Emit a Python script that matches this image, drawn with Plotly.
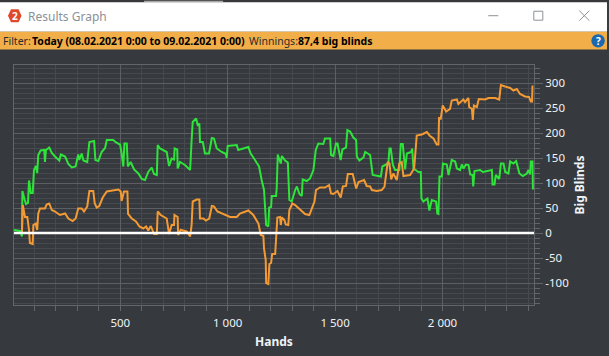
import plotly.graph_objects as go

green_hands = [5,33,42,44,55,61,70,75,83,92,98,107,113,118,129,146,149,154,169,181,196,216,223,243,258,274,292,304,309,320,328,346,356,378,384,398,413,429,437,467,480,499,506,514,519,530,535,548,564,584,600,615,630,646,657,670,674,685,716,727,739,750,753,765,767,778,801,825,832,837,853,860,868,871,884,894,913,926,936,949,972,992,995,1000,1042,1049,1096,1107,1127,1146,1158,1169,1179,1189,1193,1202,1205,1225,1228,1233,1247,1252,1267,1280,1287,1298,1314,1322,1334,1345,1349,1368,1383,1399,1410,1422,1445,1453,1477,1481,1492,1504,1511,1520,1526,1534,1551,1557,1570,1585,1598,1601,1613,1632,1640,1663,1675,1713,1720,1733,1748,1753,1759,1769,1779,1799,1806,1815,1826,1834,1854,1859,1865,1888,1899,1902,1911,1930,1939,1950,1970,1976,1981,1986,1997,2002,2020,2028,2043,2059,2067,2082,2090,2098,2109,2121,2129,2140,2143,2149,2175,2188,2230,2233,2242,2248,2264,2272,2284,2292,2307,2315,2330,2343,2358,2374,2393,2400,2408,2411,2419,2421]
green_bb = [6,4,-7,84,66,58,60,105,80,80,126,134,120,156,165,166,142,166,171,160,153,145,157,153,138,131,133,157,146,159,145,142,182,184,146,144,162,170,186,186,181,177,159,133,179,179,133,142,127,119,108,106,122,131,118,116,176,169,162,134,149,147,169,167,129,142,136,126,186,222,229,216,219,182,182,159,159,190,189,169,162,158,150,174,176,166,172,159,146,133,106,86,16,13,51,52,74,74,89,157,139,154,145,141,66,63,86,93,78,74,107,104,109,126,166,179,178,189,189,156,154,179,179,156,146,167,171,206,203,191,186,153,145,151,162,156,116,113,133,136,139,169,169,136,126,126,178,178,127,159,162,169,129,122,122,69,63,69,45,66,63,39,38,113,113,139,137,116,146,143,129,126,137,129,137,136,117,116,93,124,126,122,126,97,97,116,108,139,139,122,119,143,139,144,119,114,119,126,117,143,143,87]

orange_hands = [42,46,56,67,75,79,92,95,106,113,118,126,149,157,169,181,196,219,243,258,278,292,304,320,331,346,356,374,381,390,402,418,437,467,491,502,506,517,533,536,553,573,589,607,620,630,642,657,670,674,688,716,727,739,750,752,767,769,781,809,825,832,837,856,868,871,887,898,914,926,936,952,980,1011,1042,1057,1096,1119,1143,1154,1166,1169,1177,1179,1189,1194,1202,1207,1221,1225,1231,1244,1247,1252,1264,1270,1282,1287,1301,1314,1337,1360,1380,1391,1404,1411,1430,1453,1472,1481,1492,1511,1526,1536,1551,1559,1582,1598,1609,1635,1647,1663,1671,1694,1717,1730,1736,1745,1753,1761,1771,1787,1799,1810,1818,1849,1868,1876,1880,1904,1927,1942,1958,1973,1981,1984,1992,2001,2017,2035,2043,2067,2074,2097,2105,2121,2124,2137,2141,2146,2160,2169,2198,2214,2245,2264,2272,2292,2315,2330,2346,2361,2384,2403,2411,2417,2419]
orange_bb = [0,56,32,32,6,-20,-22,16,19,6,39,49,49,57,59,46,43,36,39,29,24,29,49,49,43,53,84,84,59,51,54,71,83,86,87,83,64,83,83,38,29,23,13,9,13,5,14,-2,-2,43,36,29,-2,16,16,36,32,-4,6,3,-7,16,63,67,67,29,29,25,29,54,53,43,38,32,32,39,45,36,19,-4,-6,-31,-54,-100,-102,-62,-60,-42,-42,-7,31,32,16,31,26,17,16,46,59,56,46,38,36,49,63,86,91,91,96,79,78,84,71,93,94,118,118,89,102,106,94,93,86,84,86,93,116,142,139,107,119,106,139,142,114,116,129,166,195,197,202,194,189,177,177,230,229,255,243,248,265,267,258,267,262,270,252,248,226,255,252,268,267,270,270,267,296,293,290,285,288,278,273,272,263,263,295]

x_ticks = [500, 1000, 1500, 2000]
x_labels = ["500", "1 000", "1 500", "2 000"]
y_ticks = [-100, -50, 0, 50, 100, 150, 200, 250, 300]
y_labels = ["-100", "-50", "0", "50", "100", "150", "200", "250", "300"]

W, H = 609, 356
L, R, T, B = 14, 533.7, 64.5, 305.5
BG = "#36393d"
FONT = "Noto Sans"

def px(x):
    return (x - L) / (R - L)

def py(y):
    return 1 - (y - T) / (B - T)

def rect(x0, y0, x1, y1, color):
    return dict(type="rect", xref="paper", yref="paper", x0=px(x0), x1=px(x1), y0=py(y0), y1=py(y1),
                fillcolor=color, line_width=0, layer="below")

def seg(x0, y0, x1, y1, color="#8d9094", width=1):
    return dict(type="line", xref="paper", yref="paper", x0=px(x0), x1=px(x1), y0=py(y0), y1=py(y1),
                line=dict(color=color, width=width), layer="above")

def label(x, y, text, size=11, color="#000000", bold=False, anchor="left", angle=0):
    t = f"<b>{text}</b>" if bold else text
    return dict(xref="paper", yref="paper", x=px(x), y=py(y), text=t, showarrow=False,
                xanchor=anchor, yanchor="middle", textangle=angle,
                font=dict(family=FONT, size=size, color=color))

fig = go.Figure()
fig.add_trace(go.Scatter(x=green_hands, y=green_bb, mode="lines",
                         line=dict(color="#2ee33a", width=2), showlegend=False))
fig.add_trace(go.Scatter(x=orange_hands, y=orange_bb, mode="lines",
                         line=dict(color="#f39a34", width=2), showlegend=False))

hexagon = "M {} {} L {} {} L {} {} L {} {} L {} {} L {} {} Z".format(
    px(11), py(8.5), px(18.5), py(8.5), px(21.5), py(15), px(18.5), py(21.5), px(11), py(21.5), px(8), py(15))

shapes = [
    rect(0, 0, W, 1.5, "#3a3a3a"),
    rect(144, 0, 223, 1.5, "#a8a8a8"),
    rect(0, 1.5, 606.7, 31, "#ffffff"),
    rect(606.7, 1.5, W, 31, "#3a3d40"),
    rect(0, 31, 606.7, 49, "#f2ae48"),
    rect(606.7, 31, W, 49, "#3a3d40"),
    dict(type="path", xref="paper", yref="paper", path=hexagon, fillcolor="#e0482a", line_width=0, layer="above"),
    seg(488, 15, 498, 15),
    dict(type="rect", xref="paper", yref="paper", x0=px(533.5), x1=px(542.5), y0=py(10.5), y1=py(19.5),
         line=dict(color="#8d9094", width=1), layer="above"),
    seg(579, 10, 589, 20),
    seg(589, 10, 579, 20),
    dict(type="circle", xref="paper", yref="paper", x0=px(591), x1=px(604.5), y0=py(33.5), y1=py(47),
         fillcolor="#1a68ad", line_width=0, layer="above"),
    dict(type="line", xref="paper", yref="y", x0=0, x1=1, y0=0, y1=0,
         line=dict(color="#ffffff", width=2.5), layer="above"),
]

annotations = [
    label(14.7, 15, "2", size=10, color="#ffffff", bold=True, anchor="center"),
    label(26, 16, "Results Graph", size=12, color="#8b9198"),
    label(1, 40, "Filter:", size=10.5, color="#2b2b2b"),
    label(30, 40, "Today (08.02.2021 0:00 to 09.02.2021 0:00)", size=10.5, bold=True),
    label(246.5, 40, "Winnings:", size=10.5, color="#2b2b2b"),
    label(296, 40, "87,4 big blinds", size=10.5, bold=True),
    label(597.7, 40, "?", size=10, color="#ffffff", bold=True, anchor="center"),
]

fig.update_layout(
    width=W, height=H, autosize=False,
    margin=dict(l=L, r=W - R, t=T, b=H - B, pad=0),
    paper_bgcolor=BG, plot_bgcolor=BG,
    font=dict(family=FONT, size=11.5, color="#eef3f7"),
    shapes=shapes, annotations=annotations, showlegend=False,
    xaxis=dict(
        range=[5, 2426], tickmode="array", tickvals=x_ticks, ticktext=x_labels,
        showgrid=True, gridcolor="#5c5f63", gridwidth=1, zeroline=False,
        showline=True, linecolor="#626569", linewidth=1, mirror=True,
        ticks="outside", ticklen=5, tickcolor="#626569", ticklabelstandoff=2,
        minor=dict(dtick=100, tick0=0, showgrid=True, gridcolor="#46494d", gridwidth=1,
                   ticks="outside", ticklen=5, tickcolor="#626569"),
        title=dict(text="<b>Hands</b>", standoff=8, font=dict(size=12, color="#eef3f7")),
        automargin=False, fixedrange=True,
    ),
    yaxis=dict(
        range=[-144, 336], side="right", tickmode="array", tickvals=y_ticks, ticktext=y_labels,
        showgrid=True, gridcolor="#5c5f63", gridwidth=1, zeroline=False,
        showline=True, linecolor="#626569", linewidth=1, mirror=True,
        ticks="outside", ticklen=8, tickcolor="#626569", ticklabelstandoff=0,
        minor=dict(dtick=10, tick0=0, showgrid=True, gridcolor="#46494d", gridwidth=1,
                   ticks="outside", ticklen=5, tickcolor="#626569"),
        title=dict(text="<b>Big Blinds</b>", standoff=7, font=dict(size=12, color="#eef3f7")),
        automargin=False, fixedrange=True,
    ),
)

fig.write_html("out.html", config=dict(displayModeBar=False),
               post_script="document.body.style.margin='0';document.documentElement.style.background='#36393d';")
